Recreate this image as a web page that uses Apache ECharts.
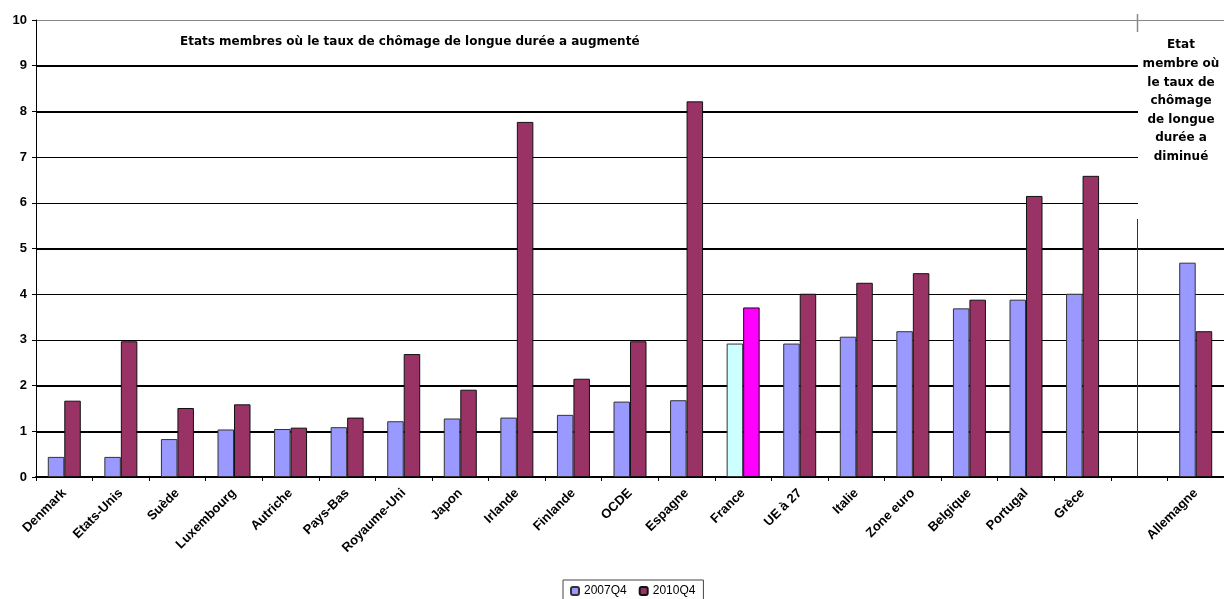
<!DOCTYPE html>
<html>
<head>
<meta charset="utf-8">
<script src="https://cdn.jsdelivr.net/npm/echarts@6/dist/echarts.min.js"></script>
<style>
  html, body { margin: 0; padding: 0; background: #fff; }
  #chart { width: 1224px; height: 599px; }
</style>
</head>
<body>
<div id="chart"></div>
<script>
// Long-term unemployment rate (% of labour force), 2007Q4 vs 2010Q4
const categories = ['Denmark', 'Etats-Unis', 'Suède', 'Luxembourg', 'Autriche', 'Pays-Bas',
  'Royaume-Uni', 'Japon', 'Irlande', 'Finlande', 'OCDE', 'Espagne', 'France', 'UE à 27',
  'Italie', 'Zone euro', 'Belgique', 'Portugal', 'Grèce', '', 'Allemagne'];
const q2007 = [0.44, 0.44, 0.83, 1.04, 1.05, 1.09, 1.22, 1.28, 1.30, 1.36, 1.65, 1.68,
  2.92, 2.92, 3.07, 3.19, 3.69, 3.88, 4.01, null, 4.69];
const q2010 = [1.67, 2.97, 1.51, 1.59, 1.08, 1.30, 2.69, 1.91, 7.77, 2.15, 2.97, 8.22,
  3.71, 4.01, 4.25, 4.46, 3.88, 6.15, 6.59, null, 3.19];
const seriesNames = ['2007Q4', '2010Q4'];
const yTicks = [0, 1, 2, 3, 4, 5, 6, 7, 8, 9, 10];
// gridlines drawn heavier
const heavyLines = [1, 2, 5, 8, 9];
const highlighted = 'France';

const FONT = '"Liberation Sans", Arial, sans-serif';
const WIDE = '"DejaVu Sans", Verdana, sans-serif';
const colors = { a: '#9999FF', b: '#993366', aHi: '#CCFFFF', bHi: '#FF00FF' };

function toData(values, hiColor) {
  return values.map((v, i) => categories[i] === highlighted
    ? { value: v, itemStyle: { color: hiColor } }
    : v);
}

const chart = echarts.init(document.getElementById('chart'), null, { renderer: 'canvas' });
chart.setOption({
  animation: false,
  backgroundColor: '#fff',
  textStyle: { fontFamily: FONT },
  grid: { left: 36, right: -7, top: 20, bottom: 122 },
  legend: {
    top: 580, left: 563,
    itemWidth: 8, itemHeight: 8, itemGap: 12,
    padding: [5, 8, 6, 7],
    borderColor: '#444', borderWidth: 1,
    textStyle: { fontFamily: FONT, fontSize: 12, color: '#000' },
    data: seriesNames
  },
  xAxis: {
    type: 'category',
    data: categories,
    axisLine: { lineStyle: { color: '#000', width: 2 } },
    axisTick: { show: true, length: 4, lineStyle: { color: '#000' } },
    axisLabel: {
      interval: 0, rotate: 45, margin: 14,
      fontFamily: FONT, fontSize: 13, fontWeight: 'bold', color: '#000'
    }
  },
  yAxis: [
    {
      type: 'value',
      min: yTicks[0], max: yTicks[yTicks.length - 1], interval: 1,
      axisLine: { show: true, lineStyle: { color: '#000', width: 1 } },
      axisTick: { show: true, length: 4, lineStyle: { color: '#000' } },
      axisLabel: { margin: 9, fontFamily: FONT, fontSize: 13, fontWeight: 'bold', color: '#000' },
      splitLine: {
        show: true,
        lineStyle: {
          width: 1,
          color: ['#000', '#000', '#000', '#000', '#000', '#000', '#000', '#000', '#000', '#000', '#888']
        }
      }
    },
    {
      type: 'value',
      position: 'left',
      min: yTicks[0], max: yTicks[yTicks.length - 1],
      axisLine: { show: false },
      axisLabel: { show: false, customValues: heavyLines },
      axisTick: { show: false, customValues: heavyLines },
      splitLine: { show: true, lineStyle: { width: 2, color: '#000' } }
    }
  ],
  series: [
    {
      name: seriesNames[0], type: 'bar', barWidth: 16.5, barGap: '0%',
      itemStyle: { color: colors.a, borderColor: '#333', borderWidth: 1 },
      data: toData(q2007, colors.aHi)
    },
    {
      name: seriesNames[1], type: 'bar', barWidth: 16.5, barGap: '0%',
      itemStyle: { color: colors.b, borderColor: '#111', borderWidth: 1 },
      data: toData(q2010, colors.bHi)
    }
  ],
  graphic: [
    {
      type: 'text', left: 180, top: 36, z: 100,
      style: {
        text: 'Etats membres où le taux de chômage de longue durée a augmenté',
        font: 'bold 12px ' + WIDE, fill: '#000'
      }
    },
    {
      type: 'rect', z: 90, left: 1138, top: 22,
      shape: { x: 0, y: 0, width: 90, height: 196 },
      style: { fill: '#fff', stroke: null }
    },
    {
      type: 'text', z: 100, x: 1181, y: 36,
      style: {
        text: 'Etat\nmembre où\nle taux de\nchômage\nde longue\ndurée a\ndiminué',
        font: 'bold 12px ' + WIDE, fill: '#000',
        align: 'center', lineHeight: 18.6
      }
    },
    {
      type: 'line', z: 100,
      shape: { x1: 1137.5, y1: 219, x2: 1137.5, y2: 477 },
      style: { stroke: '#333', lineWidth: 1 }
    },
    {
      type: 'line', z: 100,
      shape: { x1: 1137.5, y1: 14, x2: 1137.5, y2: 32 },
      style: { stroke: '#888', lineWidth: 1.5 }
    }
  ]
});
</script>
</body>
</html>
